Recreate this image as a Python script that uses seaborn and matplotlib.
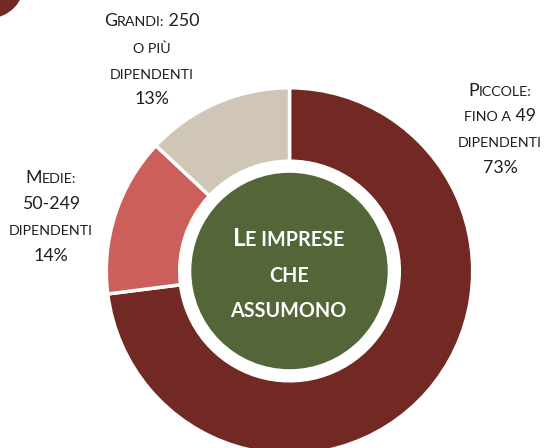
import numpy as np
import matplotlib
matplotlib.use("Agg")
import matplotlib.pyplot as plt
from matplotlib.patches import Circle
import seaborn as sns

# data
categories = ["Piccole", "Medie", "Grandi"]
shares = [73, 14, 13]
colors = ["#722823", "#CD5F5A", "#CFC6B8"]
center_color = "#546538"

# label lines: (text, size) runs to fake small caps
BIG, SMALL = 12.8, 10.3
label_piccole = [[("P", BIG), ("ICCOLE:", SMALL)],
                 [("FINO A", SMALL), (" 49", BIG)],
                 [("DIPENDENTI", SMALL)],
                 [("73%", BIG)]]
label_medie = [[("M", BIG), ("EDIE:", SMALL)],
               [("50-249", BIG)],
               [("DIPENDENTI", SMALL)],
               [("14%", BIG)]]
label_grandi = [[("G", BIG), ("RANDI:", SMALL), (" 250", BIG)],
                [("O PIÙ", SMALL)],
                [("DIPENDENTI", SMALL)],
                [("13%", BIG)]]
center_lines = [[("L", 17.4), ("E IMPRESE", 14.2)],
                [("CHE", 14.2)],
                [("ASSUMONO", 14.2)]]

sns.set_theme(style="white")
plt.rcParams["font.family"] = ["Lato", "DejaVu Sans"]

W, H = 545, 448
fig = plt.figure(figsize=(W / 100, H / 100), dpi=100)
ax = fig.add_axes([0, 0, 1, 1])

cx, cy = 289.5, H - 271
lw = 2.5
ax.pie(shares, colors=colors, startangle=90, counterclock=False,
       radius=183.2, center=(cx, cy),
       wedgeprops=dict(width=73.4, edgecolor="white", linewidth=lw))
ax.add_patch(Circle((cx, cy), 97.5, color=center_color, zorder=3))

# corner decoration, mostly off the canvas
ax.add_patch(Circle((-12, H + 18), 36, color=colors[0], zorder=1))

ax.set_xlim(0, W)
ax.set_ylim(0, H)
ax.set_aspect("equal")
ax.axis("off")

renderer = fig.canvas.get_renderer()


def rich_line(x, y_pix, parts, **kw):
    texts, widths = [], []
    for s, size in parts:
        t = ax.text(0, H - y_pix, s, fontsize=size, ha="left", va="baseline",
                    zorder=5, **kw)
        texts.append(t)
        widths.append(t.get_window_extent(renderer=renderer).width)
    cur = x - sum(widths) / 2
    for t, w in zip(texts, widths):
        t.set_x(cur)
        cur += w


def block(x, baselines, lines, **kw):
    for yb, parts in zip(baselines, lines):
        rich_line(x, yb, parts, **kw)


txt = "#1f1f1f"
block(152, [26, 52.7, 79, 104], label_grandi, color=txt)
block(500, [96, 120.7, 147.3, 172.7], label_piccole, color=txt)
block(51, [183.3, 209.3, 235, 261], label_medie, color=txt)
block(288.7, [245.7, 281.7, 316.7], center_lines, color="white",
      fontweight="bold")

fig.savefig("out.png", dpi=100)
